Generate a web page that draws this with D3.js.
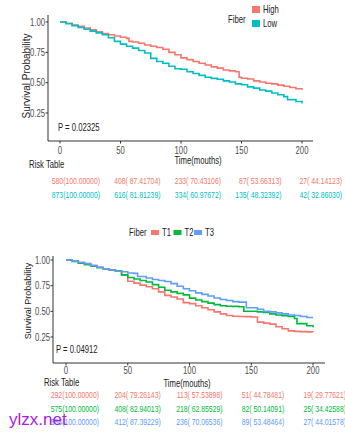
<!DOCTYPE html>
<html>
<head>
<meta charset="utf-8">
<script src="https://cdn.jsdelivr.net/npm/d3@7"></script>
<style>
  body { margin: 0; background: #fff; }
  text { font-family: "Liberation Sans", Arial, sans-serif; }
</style>
</head>
<body>
<script>
const
  TICKS = [0, 50, 100, 150, 200],
  Y_TICKS = [0.25, 0.5, 0.75, 1],
  SQUEEZE = 0.77;

// top panel: Fiber High / Low
const
  groups1 = ['High', 'Low'],
  colors1 = ['#F8766D', '#00BFC4'],
  pValue1 = 'P = 0.02325',
  high = [
    [0, 1], [5, 0.99], [10, 0.975], [15, 0.965], [20, 0.95], [25, 0.935], [30, 0.92], [35, 0.905],
    [40, 0.895], [45, 0.885], [50, 0.874], [55, 0.865], [57, 0.84], [60, 0.835], [65, 0.825],
    [70, 0.81], [75, 0.8], [80, 0.79], [85, 0.775], [90, 0.75], [95, 0.73], [100, 0.704],
    [105, 0.69], [110, 0.675], [115, 0.66], [120, 0.645], [125, 0.63], [130, 0.62], [135, 0.605],
    [140, 0.597], [145, 0.59], [148, 0.545], [150, 0.537], [155, 0.53], [160, 0.515], [165, 0.505],
    [170, 0.495], [175, 0.49], [180, 0.48], [185, 0.47], [190, 0.46], [195, 0.45], [200, 0.441]
  ],
  low = [
    [0, 1], [5, 0.985], [10, 0.97], [15, 0.955], [20, 0.94], [25, 0.925], [30, 0.91], [35, 0.895],
    [40, 0.87], [45, 0.84], [50, 0.818], [55, 0.8], [60, 0.785], [65, 0.765], [70, 0.745],
    [75, 0.7], [80, 0.675], [85, 0.66], [90, 0.635], [95, 0.615], [100, 0.61], [105, 0.59],
    [110, 0.575], [115, 0.56], [120, 0.545], [125, 0.535], [130, 0.528], [135, 0.515], [140, 0.505],
    [145, 0.49], [150, 0.483], [155, 0.465], [160, 0.455], [165, 0.44], [170, 0.43], [175, 0.415],
    [180, 0.4], [185, 0.385], [188, 0.36], [195, 0.345], [200, 0.329]
  ],
  risk1 = [
    ['580(100.00000)', '408( 87.41704)', '233( 70.43106)', '87( 53.66313)', '27( 44.14123)'],
    ['873(100.00000)', '616( 81.81239)', '334( 60.97672)', '135( 48.32392)', '42( 32.86030)']
  ];

// bottom panel: Fiber T1 / T2 / T3
const
  groups2 = ['T1', 'T2', 'T3'],
  colors2 = ['#F8766D', '#00BA38', '#619CFF'],
  pValue2 = 'P = 0.04912',
  t1 = [
    [0, 1], [5, 0.99], [10, 0.975], [15, 0.96], [20, 0.945], [25, 0.93], [30, 0.915], [35, 0.9],
    [40, 0.89], [45, 0.855], [50, 0.793], [55, 0.775], [60, 0.755], [65, 0.74], [70, 0.72],
    [75, 0.69], [80, 0.655], [85, 0.64], [90, 0.62], [95, 0.585], [100, 0.575], [105, 0.555],
    [110, 0.535], [115, 0.515], [120, 0.495], [125, 0.475], [130, 0.46], [135, 0.452], [140, 0.45],
    [145, 0.448], [150, 0.445], [155, 0.395], [160, 0.385], [165, 0.375], [170, 0.35], [175, 0.33],
    [180, 0.31], [185, 0.305], [190, 0.302], [195, 0.3], [200, 0.298]
  ],
  t2 = [
    [0, 1], [5, 0.985], [10, 0.97], [15, 0.955], [20, 0.94], [25, 0.925], [30, 0.915], [35, 0.905],
    [40, 0.895], [45, 0.855], [50, 0.829], [55, 0.815], [60, 0.8], [65, 0.785], [70, 0.76],
    [75, 0.735], [80, 0.705], [85, 0.69], [90, 0.675], [95, 0.66], [100, 0.629], [105, 0.61],
    [110, 0.595], [115, 0.58], [120, 0.565], [125, 0.555], [130, 0.55], [135, 0.548], [140, 0.545],
    [144, 0.501], [155, 0.495], [160, 0.49], [165, 0.475], [170, 0.465], [175, 0.458], [180, 0.45],
    [185, 0.43], [187, 0.38], [195, 0.36], [200, 0.344]
  ],
  t3 = [
    [0, 1], [5, 0.99], [10, 0.975], [15, 0.965], [20, 0.945], [25, 0.93], [30, 0.915], [35, 0.905],
    [40, 0.89], [45, 0.885], [50, 0.874], [55, 0.87], [58, 0.84], [65, 0.825], [70, 0.81],
    [75, 0.8], [80, 0.79], [85, 0.77], [90, 0.745], [95, 0.72], [100, 0.701], [105, 0.68],
    [110, 0.665], [115, 0.65], [120, 0.63], [125, 0.615], [130, 0.605], [135, 0.595], [140, 0.59],
    [146, 0.535], [155, 0.52], [160, 0.5], [165, 0.495], [170, 0.485], [175, 0.475], [180, 0.465],
    [185, 0.46], [190, 0.45], [195, 0.44], [200, 0.44]
  ],
  risk2 = [
    ['292(100.00000)', '204( 79.26143)', '113( 57.53898)', '51( 44.78481)', '19( 29.77621)'],
    ['575(100.00000)', '408( 82.94013)', '218( 62.85529)', '82( 50.14091)', '25( 34.42588)'],
    ['586(100.00000)', '412( 87.39229)', '236( 70.06536)', '89( 53.48464)', '27( 44.01578)']
  ];

const svg = d3.select('body').append('svg')
  .attr('width', 345)
  .attr('height', 432);

// squeezed text, anchored at (x, y)
function label (g, x, y, str, opts = {}) {
  return g.append('text')
    .attr('transform', `translate(${x},${y}) scale(${opts.sx || SQUEEZE},1)`)
    .attr('text-anchor', opts.anchor || 'start')
    .style('font-size', (opts.size || 10) + 'px')
    .style('fill', opts.fill || '#333')
    .text(str);
}

function drawPanel (p) {
  let
    g = svg.append('g'),
    x = d3.scaleLinear().domain([0, 200]).range([p.x0, p.x1]),
    y = d3.scaleLinear().domain([0.25, 1]).range([p.y25, p.y100]),
    line = d3.line()
      .x((d) => x(d[0]))
      .y((d) => y(d[1]))
      .curve(d3.curveStepAfter);

  // curves
  p.series.forEach((s, i) => {
    g.append('path')
      .datum(s)
      .attr('d', line)
      .attr('fill', 'none')
      .attr('stroke', p.colors[i])
      .attr('stroke-width', 1.6);
  });

  // axis lines
  g.append('line')
    .attr('x1', p.axisX).attr('x2', p.axisX)
    .attr('y1', p.axisTop).attr('y2', p.axisY)
    .attr('stroke', '#333').attr('stroke-width', 1);
  g.append('line')
    .attr('x1', p.axisX).attr('x2', p.axisRight)
    .attr('y1', p.axisY).attr('y2', p.axisY)
    .attr('stroke', '#333').attr('stroke-width', 1);

  // x ticks
  TICKS.forEach((t) => {
    g.append('line')
      .attr('x1', x(t)).attr('x2', x(t))
      .attr('y1', p.axisY).attr('y2', p.axisY + 2.5)
      .attr('stroke', '#333');
    label(g, x(t), p.xTickY, t, { anchor : 'middle', size : 10, fill : '#4d4d4d' });
  });

  // y ticks
  Y_TICKS.forEach((t) => {
    g.append('line')
      .attr('x1', p.axisX - 2.5).attr('x2', p.axisX)
      .attr('y1', y(t)).attr('y2', y(t))
      .attr('stroke', '#333');
    label(g, p.axisX - 3, y(t) + 3.5, d3.format('.2f')(t), { anchor : 'end', size : 10, fill : '#4d4d4d' });
  });

  // axis titles
  g.append('text')
    .attr('transform', `translate(${p.yLabelX},${p.yLabelY}) rotate(-90)`)
    .attr('text-anchor', 'middle')
    .style('font-size', p.yLabelSize + 'px')
    .style('fill', '#222')
    .text('Survival Probability');
  label(g, p.xLabelX, p.xLabelY, 'Time(mouths)', { anchor : 'middle', size : 10, fill : '#222' });

  label(g, p.pX, p.pY, p.pValue, { size : 10, fill : '#222' });

  // risk table
  label(g, p.riskX, p.riskY, 'Risk Table', { size : 10, fill : '#222' });
  p.risk.forEach((row, i) => {
    row.forEach((str, j) => {
      label(g, x(TICKS[j]) + p.riskOffset, p.riskRows[i], str,
        { anchor : 'end', size : 9.5, fill : p.colors[i], sx : 0.72 });
    });
  });

  // legend
  let lg = g.append('g');
  label(lg, p.legend.titleX, p.legend.titleY, 'Fiber', { size : 10, fill : '#222' });
  p.groups.forEach((name, i) => {
    let item = p.legend.items[i];
    lg.append('rect')
      .attr('x', item[0]).attr('y', item[1])
      .attr('width', p.legend.sw).attr('height', p.legend.sh)
      .attr('fill', p.colors[i]);
    label(lg, item[0] + p.legend.sw + 3, item[1] + p.legend.sh / 2 + 3.5, name, { size : 10, fill : '#222' });
  });
}

drawPanel({
  series : [high, low], colors : colors1, groups : groups1, risk : risk1, pValue : pValue1,
  x0 : 60, x1 : 302, y25 : 113, y100 : 22,
  axisX : 48, axisY : 141, axisTop : 15, axisRight : 313,
  xTickY : 154, xLabelX : 198, xLabelY : 164,
  yLabelX : 30, yLabelY : 76, yLabelSize : 10,
  pX : 58, pY : 131,
  riskX : 29, riskY : 168, riskOffset : 40, riskRows : [184, 198],
  legend : { titleX : 228, titleY : 23, sw : 8, sh : 7, items : [[252, 6], [252, 20]] }
});

drawPanel({
  series : [t1, t2, t3], colors : colors2, groups : groups2, risk : risk2, pValue : pValue2,
  x0 : 66, x1 : 313, y25 : 337, y100 : 260,
  axisX : 53, axisY : 363, axisTop : 256, axisRight : 325,
  xTickY : 373.5, xLabelX : 187, xLabelY : 387,
  yLabelX : 31, yLabelY : 301, yLabelSize : 9,
  pX : 56, pY : 353,
  riskX : 44, riskY : 386, riskOffset : 33, riskRows : [398, 412, 425],
  legend : { titleX : 129, titleY : 236, sw : 8, sh : 5, items : [[151, 230], [173.5, 230], [194, 230]] }
});

// watermark
svg.append('text')
  .attr('x', 9).attr('y', 425)
  .style('font-size', '17px')
  .style('fill', '#a81ee0')
  .text('ylzx.net');
</script>
</body>
</html>
